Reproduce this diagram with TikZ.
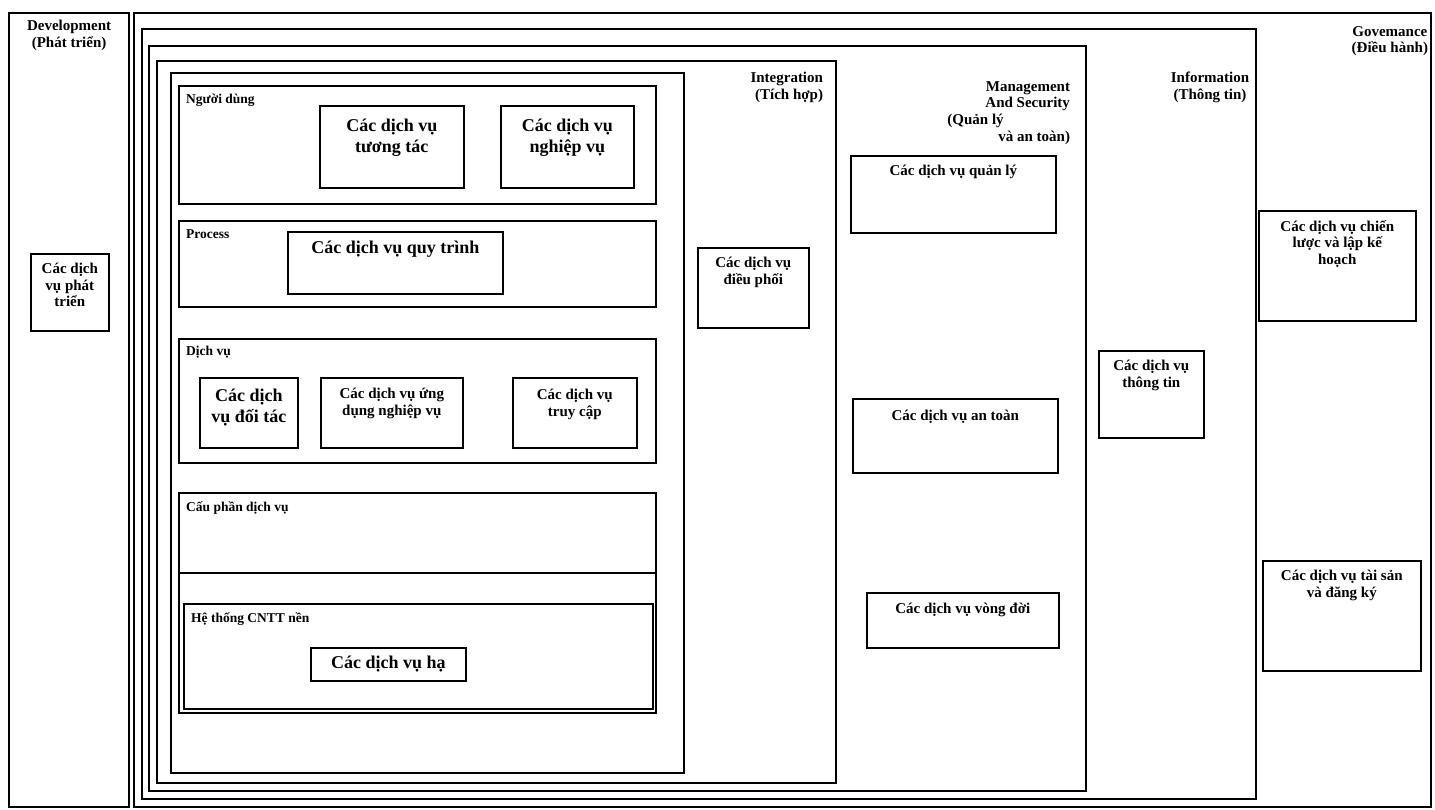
\documentclass[tikz,border=0pt]{standalone}
\usepackage{fontspec}
\setmainfont{Liberation Serif}

\begin{document}
\begin{tikzpicture}[x=1pt,y=-1pt]
    \tikzstyle{frame}=[draw=black,line width=2.2pt,anchor=north west,inner sep=0pt]
    \tikzstyle{svcbox}=[draw=black,line width=1.6pt,anchor=north west,inner sep=0pt]
    \tikzstyle{big}=[font=\fontsize{18}{21}\selectfont\bfseries,align=center,inner sep=0pt]
    \tikzstyle{small}=[font=\fontsize{15}{16.5}\selectfont\bfseries,align=center,inner sep=0pt]
    \tikzstyle{tag}=[font=\fontsize{13.5}{15.5}\selectfont\bfseries,anchor=north west,inner sep=0pt]
    \useasboundingbox (0,0) rectangle (1435,810);

    % nested frames
    \foreach \name/\xa/\ya/\xb/\yb in {dev/8/12/128/806, gov/133/12/1430/806, info/141/28/1255/798,
            mgmt/148/45/1085/790, integ/156/60/835/782, core/170/72/683/772}
        \node[frame, minimum width={(\xb-\xa)*1pt}, minimum height={(\yb-\ya)*1pt}] (\name) at (\xa,\ya) {};

    % layers and service boxes
    \foreach \name/\xa/\ya/\xb/\yb in {user/178/85/655/203, process/178/220/655/306, service/178/338/655/462,
            component/178/492/655/572, infra/178/572/655/712, itbase/183/603/652/708,
            interact/319/105/463/187, business/500/105/633/187, workflow/287/231/502/293,
            partner/199/377/297/447, appsvc/320/377/462/447, access/512/377/636/447, lower/310/647/465/680,
            orchestr/697/247/808/327, manage/850/155/1055/232, safety/852/398/1057/472, lifecycle/866/592/1058/647,
            infosvc/1098/350/1203/437, strategy/1258/210/1415/320, assets/1262/560/1420/670, devsvc/30/253/108/330}
        \node[svcbox, minimum width={(\xb-\xa)*1pt}, minimum height={(\yb-\ya)*1pt}] (\name) at (\xa,\ya) {};

    % frame labels
    \node[small, anchor=north] (dev-t) at ([yshift=-8pt]dev.north) {Development\\(Phát triển)};
    \node[small, anchor=north east] (gov-t) at ([xshift=-4pt,yshift=-14pt]gov.north east) {Govemance\\(Điều hành)};
    \node[small, anchor=north] (info-t) at (1210,72) {Information\\(Thông tin)};
    \node[small, anchor=north east, align=right] (mgmt-t) at ([xshift=-17pt,yshift=-36pt]mgmt.north east)
        {Management\\And Security};
    \node[small, anchor=north west] (mgmt-t2) at ([xshift=-38pt,yshift=-3pt]mgmt-t.south west) {(Quản lý};
    \node[small, anchor=north east] (mgmt-t3) at ([yshift=-3pt]mgmt-t2.south -| mgmt-t.east) {và an toàn)};
    \node[small, anchor=north east, align=right] (integ-t) at ([xshift=-14pt,yshift=-12pt]integ.north east) {Integration\\(Tích hợp)};

    % layer labels
    \node[tag] (user-t) at ([xshift=8pt,yshift=-9pt]user.north west) {Người dùng};
    \node[tag] (process-t) at ([xshift=8pt,yshift=-9pt]process.north west) {Process};
    \node[tag] (service-t) at ([xshift=8pt,yshift=-8pt]service.north west) {Dịch vụ};
    \node[tag] (component-t) at ([xshift=8pt,yshift=-9pt]component.north west) {Cấu phần dịch vụ};
    \node[tag] (itbase-t) at ([xshift=8pt,yshift=-9pt]itbase.north west) {Hệ thống CNTT nền};

    % service labels
    \node[big, anchor=north] (interact-t) at ([yshift=-14pt]interact.north) {Các dịch vụ\\tương tác};
    \node[big, anchor=north] (business-t) at ([yshift=-14pt]business.north) {Các dịch vụ\\nghiệp vụ};
    \node[big, anchor=north] (workflow-t) at ([yshift=-10pt]workflow.north) {Các dịch vụ quy trình};
    \node[big, anchor=north] (partner-t) at ([yshift=-12pt]partner.north) {Các dịch\\vụ đối tác};
    \node[small, anchor=north] (appsvc-t) at ([yshift=-11pt]appsvc.north) {Các dịch vụ ứng\\dụng nghiệp vụ};
    \node[small, anchor=north] (access-t) at ([yshift=-12pt]access.north) {Các dịch vụ\\truy cập};
    \node[big] (lower-t) at (lower.center) {Các dịch vụ hạ};
    \node[small, anchor=north] (orchestr-t) at ([yshift=-10pt]orchestr.north) {Các dịch vụ\\điều phối};
    \node[small, anchor=north] (manage-t) at ([yshift=-10pt]manage.north) {Các dịch vụ quản lý};
    \node[small, anchor=north] (safety-t) at ([yshift=-12pt]safety.north) {Các dịch vụ an toàn};
    \node[small, anchor=north] (lifecycle-t) at ([yshift=-11pt]lifecycle.north) {Các dịch vụ vòng đời};
    \node[small, anchor=north] (infosvc-t) at ([yshift=-10pt]infosvc.north) {Các dịch vụ\\thông tin};
    \node[small, anchor=north] (strategy-t) at ([yshift=-10pt]strategy.north) {Các dịch vụ chiến\\lược và lập kế\\hoạch};
    \node[small, anchor=north] (assets-t) at ([yshift=-10pt]assets.north) {Các dịch vụ tài sản\\và đăng ký};
    \node[small, anchor=north] (devsvc-t) at ([yshift=-10pt]devsvc.north) {Các dịch\\vụ phát\\triển};
\end{tikzpicture}
\end{document}
